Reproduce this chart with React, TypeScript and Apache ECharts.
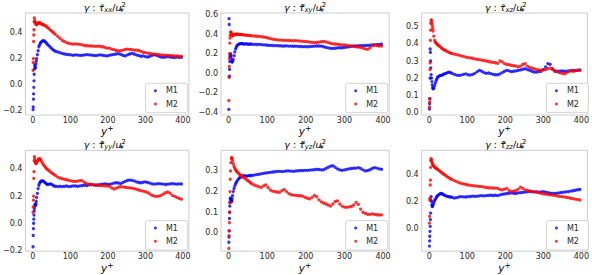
import React, { useEffect, useRef } from 'react';
import * as echarts from 'echarts';

// wall-normal coordinate y+ (shared sampling for all series)
const yPlus = [
  0.5, 1, 1.5, 2, 2.5, 3, 3.5, 4, 5, 6,
  7, 8, 9, 10, 12, 14, 16, 18, 20, 22,
  25, 28, 31, 34, 37, 40, 44, 48, 52, 56,
  60,
  66, 72, 78, 84, 90, 96, 102, 108, 114, 120,
  126, 132, 138, 144, 150, 156, 162, 168, 174, 180,
  186, 192, 198, 204, 210, 216, 222, 228, 234, 240,
  246, 252, 258, 264, 270, 276, 282, 288, 294, 300,
  306, 312, 318, 324, 330, 336, 342, 348, 354, 360,
  366, 372, 378, 384, 390, 396,
];

const xxM1 = [
  -0.19, -0.17, -0.11, -0.07, -0.02, 0.03, 0.08, 0.12, 0.15, 0.14,
  0.13, 0.16, 0.18, 0.2, 0.23, 0.26, 0.29, 0.305, 0.318, 0.326,
  0.333, 0.336, 0.333, 0.325, 0.315, 0.305, 0.295, 0.283, 0.272, 0.263,
  0.256,
  0.25, 0.245, 0.24, 0.235, 0.232, 0.23, 0.228, 0.225, 0.228, 0.226,
  0.224, 0.225, 0.228, 0.23, 0.228, 0.226, 0.224, 0.222, 0.226, 0.228,
  0.225, 0.222, 0.22, 0.225, 0.228, 0.232, 0.235, 0.238, 0.232, 0.225,
  0.22, 0.228, 0.235, 0.24, 0.235, 0.228, 0.222, 0.218, 0.22, 0.215,
  0.212, 0.218, 0.225, 0.228, 0.225, 0.218, 0.212, 0.21, 0.212, 0.215,
  0.212, 0.21, 0.208, 0.212, 0.21, 0.21,
];
const xxM2 = [
  0.11, 0.17, 0.2, 0.33, 0.38, 0.42, 0.48, 0.51, 0.49, 0.48,
  0.47, 0.465, 0.46, 0.46, 0.465, 0.47, 0.475, 0.475, 0.47, 0.465,
  0.46, 0.458, 0.455, 0.45, 0.443, 0.435, 0.425, 0.415, 0.405, 0.395,
  0.385,
  0.37, 0.355, 0.34, 0.33, 0.322, 0.316, 0.312, 0.31, 0.312, 0.31,
  0.308, 0.305, 0.3, 0.298, 0.297, 0.296, 0.295, 0.293, 0.295, 0.292,
  0.29, 0.285, 0.28, 0.28, 0.272, 0.268, 0.262, 0.258, 0.26, 0.265,
  0.27, 0.272, 0.27, 0.268, 0.265, 0.265, 0.262, 0.255, 0.248, 0.245,
  0.242, 0.24, 0.236, 0.234, 0.232, 0.23, 0.228, 0.226, 0.225, 0.225,
  0.223, 0.222, 0.22, 0.22, 0.218, 0.216,
];

const xyM1 = [
  -0.37, 0.56, 0.5, -0.03, 0.04, 0.12, 0.17, 0.19, 0.2, 0.18,
  0.15, 0.125, 0.115, 0.12, 0.14, 0.18, 0.22, 0.25, 0.27, 0.285,
  0.295, 0.302, 0.305, 0.305, 0.302, 0.3, 0.302, 0.3, 0.298, 0.3,
  0.298,
  0.297, 0.295, 0.297, 0.295, 0.292, 0.29, 0.288, 0.286, 0.285, 0.284,
  0.283, 0.282, 0.28, 0.28, 0.281, 0.279, 0.278, 0.277, 0.278, 0.276,
  0.275, 0.273, 0.273, 0.272, 0.274, 0.276, 0.278, 0.28, 0.28, 0.278,
  0.272, 0.266, 0.26, 0.256, 0.255, 0.257, 0.26, 0.262, 0.262, 0.265,
  0.268, 0.272, 0.276, 0.28, 0.28, 0.282, 0.283, 0.284, 0.285, 0.286,
  0.288, 0.29, 0.292, 0.294, 0.296, 0.298,
];
const xyM2 = [
  -0.28, -0.04, 0.07, 0.15, 0.2, 0.31, 0.36, 0.39, 0.42, 0.425,
  0.41, 0.395, 0.385, 0.385, 0.39, 0.395, 0.398, 0.4, 0.4, 0.4,
  0.4, 0.398, 0.398, 0.396, 0.395, 0.394, 0.392, 0.39, 0.388, 0.386,
  0.384,
  0.382, 0.38, 0.378, 0.376, 0.372, 0.368, 0.362, 0.356, 0.35, 0.346,
  0.343, 0.34, 0.34, 0.338, 0.337, 0.336, 0.335, 0.334, 0.335, 0.333,
  0.33, 0.328, 0.326, 0.324, 0.32, 0.317, 0.315, 0.316, 0.32, 0.324,
  0.326, 0.322, 0.315, 0.308, 0.302, 0.3, 0.298, 0.296, 0.292, 0.29,
  0.288, 0.284, 0.28, 0.276, 0.272, 0.27, 0.265, 0.258, 0.25, 0.246,
  0.262, 0.285, 0.29, 0.285, 0.28, 0.28,
];

const xzM1 = [
  0.02, 0.05, 0.08, 0.2, 0.37, 0.35, 0.3, 0.26, 0.22, 0.2,
  0.18, 0.16, 0.145, 0.138, 0.14, 0.155, 0.17, 0.185, 0.195, 0.205,
  0.21, 0.215, 0.216, 0.218, 0.222, 0.225, 0.228, 0.232, 0.235, 0.232,
  0.228,
  0.222, 0.218, 0.216, 0.218, 0.222, 0.225, 0.22, 0.218, 0.222, 0.228,
  0.238, 0.245, 0.24, 0.232, 0.228, 0.23, 0.226, 0.222, 0.22, 0.22,
  0.225, 0.232, 0.24, 0.245, 0.242, 0.238, 0.24, 0.242, 0.245, 0.248,
  0.252, 0.255, 0.25, 0.245, 0.24, 0.235, 0.235, 0.238, 0.24, 0.25,
  0.265, 0.285, 0.28, 0.255, 0.24, 0.24, 0.24, 0.242, 0.24, 0.24,
  0.242, 0.244, 0.245, 0.245, 0.246, 0.248,
];
const xzM2 = [
  0.03, 0.06, 0.08, 0.25, 0.29, 0.42, 0.48, 0.52, 0.54, 0.535,
  0.52, 0.505, 0.49, 0.475, 0.445, 0.42, 0.41, 0.405, 0.4, 0.395,
  0.39, 0.385, 0.378, 0.372, 0.368, 0.364, 0.36, 0.355, 0.35, 0.346,
  0.343,
  0.34, 0.337, 0.334, 0.33, 0.327, 0.323, 0.32, 0.318, 0.315, 0.312,
  0.31, 0.308, 0.305, 0.302, 0.3, 0.297, 0.294, 0.292, 0.29, 0.286,
  0.3, 0.295, 0.285, 0.28, 0.278, 0.275, 0.272, 0.27, 0.266, 0.27,
  0.28, 0.284, 0.27, 0.262, 0.258, 0.255, 0.25, 0.248, 0.246, 0.248,
  0.25, 0.255, 0.258, 0.25, 0.245, 0.238, 0.232, 0.228, 0.225, 0.23,
  0.238, 0.242, 0.24, 0.242, 0.245, 0.245,
];

const yyM1 = [
  -0.173, -0.09, -0.04, 0.0, 0.03, 0.06, 0.09, 0.11, 0.13, 0.14,
  0.13, 0.14, 0.16, 0.19, 0.22, 0.255, 0.28, 0.295, 0.305, 0.31,
  0.312, 0.31, 0.303, 0.295, 0.288, 0.285, 0.288, 0.29, 0.283, 0.275,
  0.272,
  0.27, 0.272, 0.27, 0.272, 0.274, 0.27, 0.272, 0.275, 0.274, 0.272,
  0.275, 0.278, 0.28, 0.278, 0.282, 0.285, 0.283, 0.28, 0.282, 0.285,
  0.288, 0.29, 0.288, 0.286, 0.29, 0.295, 0.298, 0.296, 0.292, 0.3,
  0.308, 0.315, 0.318, 0.316, 0.312, 0.305, 0.3, 0.298, 0.302, 0.305,
  0.3, 0.295, 0.29, 0.288, 0.29, 0.292, 0.29, 0.288, 0.285, 0.288,
  0.29, 0.292, 0.29, 0.288, 0.29, 0.289,
];
const yyM2 = [
  0.08, 0.12, 0.17, 0.2, 0.33, 0.38, 0.46, 0.49, 0.475, 0.455,
  0.445, 0.44, 0.442, 0.448, 0.458, 0.467, 0.473, 0.475, 0.47, 0.46,
  0.445, 0.432, 0.42, 0.41, 0.4, 0.393, 0.385, 0.375, 0.367, 0.36,
  0.352,
  0.34, 0.333, 0.328, 0.324, 0.32, 0.316, 0.312, 0.308, 0.308, 0.31,
  0.316, 0.312, 0.3, 0.292, 0.287, 0.285, 0.283, 0.282, 0.28, 0.278,
  0.277, 0.276, 0.275, 0.272, 0.26, 0.252, 0.258, 0.265, 0.27, 0.268,
  0.265, 0.262, 0.26, 0.258, 0.255, 0.25, 0.245, 0.24, 0.236, 0.232,
  0.225, 0.215, 0.205, 0.2, 0.198, 0.2, 0.205, 0.215, 0.225, 0.23,
  0.22, 0.205, 0.198, 0.19, 0.183, 0.177,
];

const yzM1 = [
  -0.045, -0.02, 0.01, 0.07, 0.1, 0.13, 0.15, 0.165, 0.17, 0.16,
  0.15, 0.155, 0.165, 0.18, 0.2, 0.215, 0.228, 0.238, 0.245, 0.252,
  0.26, 0.266, 0.27, 0.274, 0.276, 0.277, 0.276, 0.275, 0.277, 0.278,
  0.278,
  0.28, 0.282, 0.284, 0.286, 0.288, 0.29, 0.292, 0.293, 0.295, 0.296,
  0.298, 0.298, 0.297, 0.298, 0.3, 0.3, 0.299, 0.298, 0.3, 0.301,
  0.302, 0.302, 0.303, 0.303, 0.304, 0.305, 0.306, 0.308, 0.307, 0.305,
  0.306, 0.312, 0.318, 0.323, 0.325, 0.318, 0.31, 0.305, 0.303, 0.305,
  0.308, 0.31, 0.312, 0.313, 0.314, 0.316, 0.312, 0.305, 0.3, 0.302,
  0.306, 0.312, 0.316, 0.314, 0.31, 0.308,
];
const yzM2 = [
  -0.075, -0.013, 0.01, 0.05, 0.1, 0.145, 0.2, 0.26, 0.3, 0.34,
  0.36, 0.365, 0.36, 0.35, 0.335, 0.322, 0.313, 0.306, 0.3, 0.295,
  0.29, 0.284, 0.279, 0.274, 0.27, 0.267, 0.262, 0.255, 0.25, 0.244,
  0.238,
  0.232, 0.228, 0.224, 0.22, 0.228, 0.232, 0.22, 0.208, 0.202, 0.2,
  0.198, 0.196, 0.205, 0.21, 0.2, 0.19, 0.185, 0.183, 0.182, 0.18,
  0.18, 0.178, 0.172, 0.168, 0.165, 0.172, 0.182, 0.175, 0.16, 0.15,
  0.145, 0.14, 0.135, 0.13, 0.14, 0.152, 0.155, 0.14, 0.13, 0.125,
  0.124, 0.126, 0.128, 0.135, 0.148, 0.138, 0.115, 0.1, 0.095, 0.09,
  0.09, 0.092, 0.09, 0.088, 0.087, 0.087,
];

const zzM1 = [
  -0.128, -0.09, -0.056, -0.02, 0.017, 0.066, 0.114, 0.21, 0.235, 0.2,
  0.175, 0.162, 0.165, 0.175, 0.19, 0.205, 0.215, 0.225, 0.235, 0.242,
  0.25, 0.255, 0.258, 0.256, 0.25, 0.245, 0.24, 0.236, 0.234, 0.232,
  0.23,
  0.225, 0.228, 0.232, 0.235, 0.233, 0.232, 0.235, 0.236, 0.238, 0.237,
  0.238, 0.24, 0.242, 0.24, 0.242, 0.244, 0.245, 0.243, 0.245, 0.242,
  0.248, 0.252, 0.255, 0.258, 0.26, 0.262, 0.26, 0.258, 0.262, 0.264,
  0.266, 0.268, 0.27, 0.272, 0.272, 0.27, 0.27, 0.268, 0.27, 0.272,
  0.268, 0.264, 0.26, 0.258, 0.258, 0.26, 0.262, 0.265, 0.268, 0.27,
  0.272, 0.275, 0.278, 0.282, 0.285, 0.287,
];
const zzM2 = [
  0.04, 0.09, 0.21, 0.223, 0.32, 0.356, 0.45, 0.5, 0.514, 0.505,
  0.49, 0.48, 0.472, 0.465, 0.458, 0.452, 0.447, 0.443, 0.44, 0.435,
  0.428, 0.422, 0.415, 0.408, 0.402, 0.396, 0.388, 0.38, 0.373, 0.366,
  0.36,
  0.352, 0.345, 0.338, 0.333, 0.328, 0.324, 0.32, 0.318, 0.316, 0.314,
  0.312, 0.31, 0.308, 0.305, 0.302, 0.3, 0.299, 0.298, 0.297, 0.296,
  0.288, 0.284, 0.29, 0.295, 0.28, 0.272, 0.275, 0.28, 0.29, 0.305,
  0.295, 0.284, 0.28, 0.276, 0.272, 0.27, 0.268, 0.265, 0.26, 0.255,
  0.253, 0.25, 0.248, 0.247, 0.245, 0.24, 0.237, 0.235, 0.233, 0.23,
  0.227, 0.223, 0.22, 0.217, 0.213, 0.21,
];

const xTicks = [0, 100, 200, 300, 400];
const seriesNames = ['M1', 'M2'];

const panels = [
  { comp: 'xx', tilde: '\u0303', m1: xxM1, m2: xxM2, yMin: -0.231, yMax: 0.548, yTicks: [-0.2, 0, 0.2, 0.4] },
  { comp: 'xy', tilde: '\u0303\u0303', m1: xyM1, m2: xyM2, yMin: -0.427, yMax: 0.618, yTicks: [-0.4, -0.2, 0, 0.2, 0.4, 0.6] },
  { comp: 'xz', tilde: '\u0303', m1: xzM1, m2: xzM2, yMin: -0.015, yMax: 0.58, yTicks: [0, 0.1, 0.2, 0.3, 0.4, 0.5] },
  { comp: 'yy', tilde: '\u0303\u0303', m1: yyM1, m2: yyM2, yMin: -0.205, yMax: 0.537, yTicks: [-0.2, 0, 0.2, 0.4] },
  { comp: 'yz', tilde: '\u0303\u0303', m1: yzM1, m2: yzM2, yMin: -0.088, yMax: 0.4, yTicks: [0, 0.1, 0.2, 0.3] },
  { comp: 'zz', tilde: '\u0303\u0303', m1: zzM1, m2: zzM2, yMin: -0.165, yMax: 0.575, yTicks: [0, 0.2, 0.4] },
];

const colLeft = [20.7, 221, 421.7];
const rowTop = [13, 150.3];
const gridW = 168.2;
const gridH = 102;
const FONT = 'DejaVu Sans';
const TXT = '#262626';

export default function App() {
  const ref = useRef<HTMLDivElement>(null);
  useEffect(() => {
    if (!ref.current) return;
    const chart = echarts.init(ref.current, null, { renderer: 'svg' });
    const grids: any[] = [];
    const xAxes: any[] = [];
    const yAxes: any[] = [];
    const series: any[] = [];
    const titles: any[] = [];
    const legends: any[] = [];
    const base = { fontFamily: FONT, fontWeight: 'normal', color: '#000' };
    panels.forEach((p, i) => {
      const left = colLeft[i % 3];
      const top = rowTop[Math.floor(i / 3)];
      grids.push({ left, top, width: gridW, height: gridH, show: true, borderColor: '#cccccc', borderWidth: 1, backgroundColor: '#fff' });
      xAxes.push({
        type: 'value', gridIndex: i, min: -19.8, max: 416,
        axisLine: { show: false }, axisTick: { show: false }, splitLine: { show: false },
        axisLabel: { customValues: xTicks, fontSize: 8, color: TXT, fontFamily: FONT, margin: 1 },
        name: '{m|y}{sp|+}', nameLocation: 'middle', nameGap: 5,
        nameTextStyle: {
          rich: {
            m: { ...base, fontStyle: 'italic', fontSize: 10.5, lineHeight: 13 },
            sp: { ...base, fontSize: 7.5, lineHeight: 13, verticalAlign: 'top', padding: [0, 0, 5, 0] },
          },
        },
      });
      yAxes.push({
        type: 'value', gridIndex: i, min: p.yMin, max: p.yMax,
        axisLine: { show: false }, axisTick: { show: false }, splitLine: { show: false },
        axisLabel: {
          customValues: p.yTicks, fontSize: 8, color: TXT, fontFamily: FONT, margin: 3,
          formatter: (v: number) => v.toFixed(1).replace('-', '\u2212'),
        },
      });
      series.push({
        type: 'scatter', name: seriesNames[0], xAxisIndex: i, yAxisIndex: i,
        symbol: 'circle', symbolSize: 3.3, itemStyle: { color: '#0000ff' },
        data: yPlus.map((x, k) => [x, p.m1[k]]),
      });
      series.push({
        type: 'scatter', name: seriesNames[1], xAxisIndex: i, yAxisIndex: i,
        symbol: 'circle', symbolSize: 3.3, itemStyle: { color: '#ff0000' },
        data: yPlus.map((x, k) => [x, p.m2[k]]),
      });
      const a = p.comp;
      titles.push({
        left: left + gridW / 2, top: top - 11.8, textAlign: 'center', padding: 0,
        text: `{m|\u03b3}{r| : }{m|\u03c4${p.tilde}}{sb|${a}}{r|/}{m|u}{st|\u2217}{sp|2}`,
        textStyle: {
          fontWeight: 'normal',
          rich: {
            m: { ...base, fontStyle: 'italic', fontSize: 9.5, lineHeight: 12 },
            r: { ...base, fontSize: 9.5, lineHeight: 12 },
            sb: { ...base, fontStyle: 'italic', fontSize: 6.8, lineHeight: 8, verticalAlign: 'bottom' },
            st: { ...base, fontSize: 6.8, lineHeight: 8, verticalAlign: 'bottom', width: 0.01 },
            sp: { ...base, fontSize: 6.8, lineHeight: 8, verticalAlign: 'top' },
          },
        },
      });
      legends.push({
        left: left + gridW - 43.5, top: top + 70.3, orient: 'vertical',
        data: seriesNames, icon: 'circle', itemWidth: 3, itemHeight: 3, itemGap: 3.3,
        padding: [2.4, 9.5, 3.7, 8.5],
        borderColor: '#d3d3d3', borderWidth: 1, borderRadius: 2, backgroundColor: 'rgba(255,255,255,0.8)',
        textStyle: { fontSize: 8, lineHeight: 10, fontFamily: FONT, color: TXT, padding: [0, 0, 0, 4] },
        selectedMode: false,
      });
    });
    chart.setOption({
      animation: false,
      backgroundColor: '#fff',
      textStyle: { fontFamily: FONT },
      title: titles,
      legend: legends,
      grid: grids,
      xAxis: xAxes,
      yAxis: yAxes,
      series,
    });
    return () => chart.dispose();
  }, []);
  return <div ref={ref} style={{ position: 'fixed', left: 0, top: 0, width: 592, height: 275, background: '#fff' }} />;
}
